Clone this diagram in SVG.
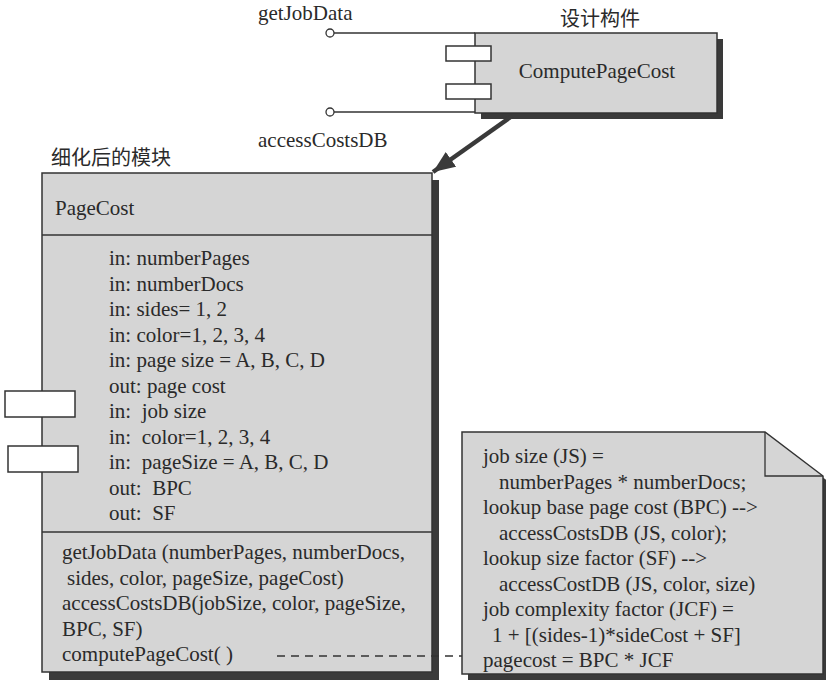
<svg xmlns="http://www.w3.org/2000/svg" width="826" height="684" viewBox="0 0 826 684">
<defs>
<style>
text{font-family:'Liberation Serif','Times New Roman',serif;font-size:21px;fill:#2a2a2a}
.cjk{font-family:'Noto Sans CJK SC',sans-serif;font-size:20px}
.box{fill:#d5d5d5;stroke:#333;stroke-width:1.5}
.shadow{fill:#3a3a3a}
.port{fill:#fff;stroke:#333;stroke-width:1.5}
.line{stroke:#333;stroke-width:1.3;fill:none}
.dash{stroke:#333;stroke-width:1.5;stroke-dasharray:8 6;fill:none}
.arrow{stroke:#3a3a3a;stroke-width:4.5;fill:none}
</style>
<marker id="ah" markerUnits="userSpaceOnUse" markerWidth="24" markerHeight="20" refX="22" refY="9" orient="auto">
<path d="M0,0 L22,9 L0,18 Z" fill="#3a3a3a"/>
</marker>
</defs>
<rect width="826" height="684" fill="#fff"/>

<g id="labels">
<text x="258" y="20">getJobData</text>
<text x="258" y="147">accessCostsDB</text>
<text class="cjk" x="560" y="26">设计构件</text>
<text class="cjk" x="51" y="165">细化后的模块</text>
</g>

<g id="ComputePageCost">
<rect class="shadow" x="481" y="39" width="242" height="80"/>
<rect class="box" x="475" y="33" width="242" height="80"/>
<rect class="port" x="446" y="46" width="45" height="15"/>
<rect class="port" x="446" y="84" width="45" height="15"/>
<text x="597" y="78" text-anchor="middle">ComputePageCost</text>
</g>

<g id="PageCost">
<rect class="shadow" x="49" y="180" width="390" height="500"/>
<rect class="box" x="42" y="173" width="390" height="499"/>
<line class="line" x1="42" y1="235" x2="432" y2="235" stroke-width="1.5"/>
<line class="line" x1="42" y1="532" x2="432" y2="532" stroke-width="1.5"/>
<rect class="port" x="5" y="391" width="70" height="26"/>
<rect class="port" x="8" y="446" width="70" height="26"/>
<text x="55" y="215">PageCost</text>
<text x="109" y="265">in: numberPages</text>
<text x="109" y="290.5">in: numberDocs</text>
<text x="109" y="316">in: sides= 1, 2</text>
<text x="109" y="341.5">in: color=1, 2, 3, 4</text>
<text x="109" y="367">in: page size = A, B, C, D</text>
<text x="109" y="392.5">out: page cost</text>
<text x="109" y="418" xml:space="preserve">in:  job size</text>
<text x="109" y="443.5" xml:space="preserve">in:  color=1, 2, 3, 4</text>
<text x="109" y="469" xml:space="preserve">in:  pageSize = A, B, C, D</text>
<text x="109" y="494.5" xml:space="preserve">out:  BPC</text>
<text x="109" y="520" xml:space="preserve">out:  SF</text>
<text x="62" y="559">getJobData (numberPages, numberDocs,</text>
<text x="67" y="584.5">sides, color, pageSize, pageCost)</text>
<text x="62" y="610">accessCostsDB(jobSize, color, pageSize,</text>
<text x="62" y="635.5">BPC, SF)</text>
<text x="62" y="661">computePageCost( )</text>
</g>

<g id="note">
<path class="shadow" d="M468,438 H771 L829,482 V680 H468 Z"/>
<path class="box" d="M462,432 H765 L823,476 V674 H462 Z"/>
<path class="line" d="M765,432 V476 H823" stroke-width="1.5"/>
<text x="483" y="463">job size (JS) =</text>
<text x="499" y="488.5">numberPages * numberDocs;</text>
<text x="483" y="514">lookup base page cost (BPC) --&gt;</text>
<text x="499" y="539.5">accessCostsDB (JS, color);</text>
<text x="483" y="565">lookup size factor (SF) --&gt;</text>
<text x="499" y="590.5">accessCostDB (JS, color, size)</text>
<text x="483" y="616">job complexity factor (JCF) =</text>
<text x="492" y="641.5">1 + [(sides-1)*sideCost + SF]</text>
<text x="483" y="667">pagecost = BPC * JCF</text>
</g>

<g id="connectors">
<line class="line" x1="334" y1="33" x2="475" y2="33"/>
<circle cx="330" cy="33" r="4" fill="#fff" stroke="#333" stroke-width="1.3"/>
<line class="line" x1="334" y1="112" x2="475" y2="112"/>
<circle cx="330" cy="112" r="4" fill="#fff" stroke="#333" stroke-width="1.3"/>
<line class="arrow" x1="512" y1="116" x2="433" y2="172" marker-end="url(#ah)"/>
<line class="dash" x1="277" y1="656" x2="462" y2="656"/>
</g>
</svg>
